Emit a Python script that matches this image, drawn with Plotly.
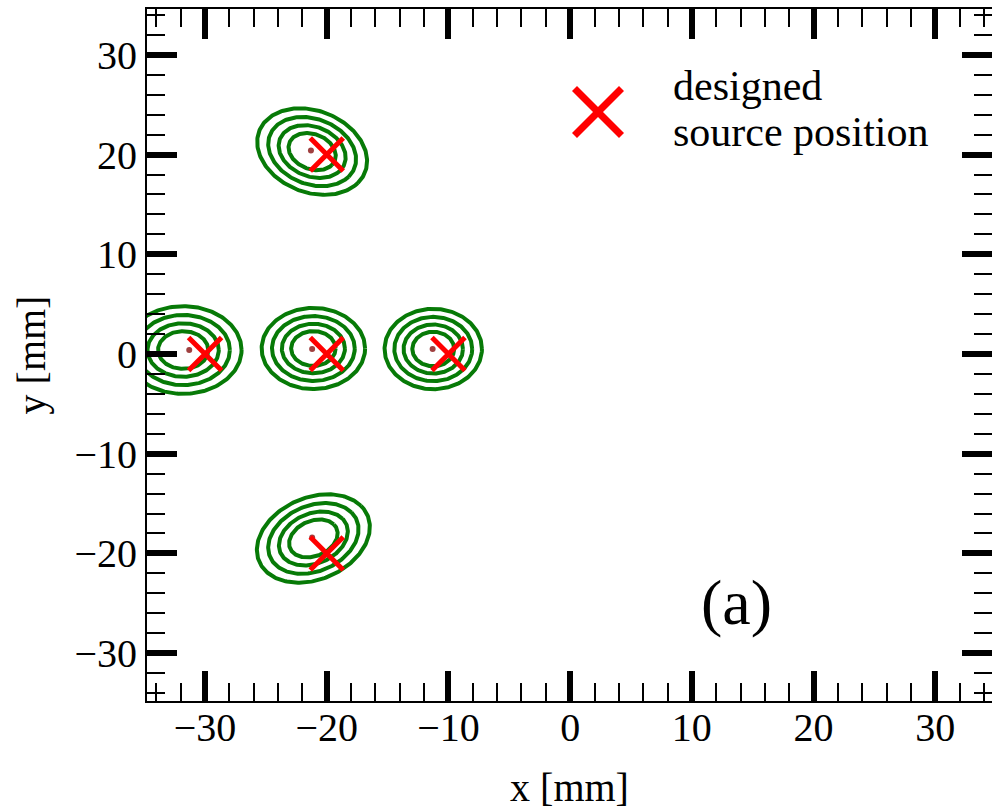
import numpy as np
import plotly.graph_objects as go

# ---- data ----
# reconstructed source distributions (outer contour ellipse parameters, mm)
ring_cx = [-31.8, -21.1, -11.25, -21.2, -21.1]
ring_cy = [0.4, 0.55, 0.5, 20.3, -18.5]
ring_a = [4.8, 4.25, 4.0, 4.9, 5.1]
ring_b = [4.4, 4.07, 4.03, 3.9, 3.9]
ring_tilt_deg = [0, 0, 0, -40, 40]
ring_scales = [0.43, 0.61, 0.8, 1.0]

# reconstructed peak positions (mm)
peak_x = [-31.3, -21.2, -11.3, -21.3, -21.2]
peak_y = [0.4, 0.5, 0.5, 20.4, -18.4]

# designed source positions (mm)
design_x = [-30, -20, -10, -20, -20]
design_y = [0, 0, 0, 20, -20]

x_range = [-34.77, 34.66]
y_range = [-34.8, 34.6]

# ---- layout geometry (pixels) ----
W, H = 992, 812
ML, MR, MT, MB = 147, 0, 9, 111
PW, PH = W - ML - MR, H - MT - MB


def px2paper(px, py):
    return (px - ML) / PW, (H - MB - py) / PH


FONT = "Liberation Serif"
GREEN = "#077a07"

fig = go.Figure()

t = np.linspace(0, 2 * np.pi, 240)
for cx, cy, a, b, th in zip(ring_cx, ring_cy, ring_a, ring_b, ring_tilt_deg):
    xs, ys = [], []
    thr = np.deg2rad(th)
    for s in ring_scales:
        u = s * a * np.cos(t)
        v = s * b * np.sin(t)
        xs += list(cx + u * np.cos(thr) - v * np.sin(thr)) + [None]
        ys += list(cy + u * np.sin(thr) + v * np.cos(thr)) + [None]
    fig.add_trace(go.Scatter(x=xs, y=ys, mode="lines",
                             line=dict(color=GREEN, width=4),
                             hoverinfo="skip", showlegend=False))

fig.add_trace(go.Scatter(x=peak_x, y=peak_y, mode="markers",
                         marker=dict(color="#a04040", size=6),
                         showlegend=False))

fig.add_trace(go.Scatter(x=design_x, y=design_y, mode="markers",
                         marker=dict(symbol="x-thin", size=33,
                                     line=dict(color="red", width=5)),
                         name="designed source position", showlegend=False))

axis_common = dict(
    tickmode="linear", tick0=0, dtick=10,
    ticks="inside", ticklen=30, tickwidth=6, tickcolor="black",
    showline=True, linewidth=2, linecolor="black", mirror="ticks",
    showgrid=False, zeroline=False,
    tickfont=dict(family=FONT, size=40, color="black"),
    minor=dict(tick0=0, dtick=2, ticks="inside", ticklen=18,
               tickwidth=1.5, tickcolor="black", showgrid=False),
)

fig.update_layout(
    template="none",
    width=W, height=H,
    margin=dict(l=ML, r=MR, t=MT, b=MB),
    paper_bgcolor="white", plot_bgcolor="white",
    showlegend=False,
    xaxis=dict(range=x_range, **axis_common, ticklabelstandoff=-10,
               title=dict(text="x [mm]", font=dict(family=FONT, size=40, color="black"),
                          standoff=24)),
    yaxis=dict(range=y_range, **axis_common,
               title=dict(text="y [mm]", font=dict(family=FONT, size=40, color="black"),
                          standoff=16)),
)

# legend: red cross + two-line label
lx, ly = px2paper(598, 112)
hx, hy = 23.5 / PW, 23.5 / PH
for (x0, y0, x1, y1) in [(lx - hx, ly + hy, lx + hx, ly - hy), (lx - hx, ly - hy, lx + hx, ly + hy)]:
    fig.add_shape(type="line", xref="paper", yref="paper",
                  x0=x0, y0=y0, x1=x1, y1=y1,
                  line=dict(color="red", width=7))

tx, ty1 = px2paper(671, 86)
_, ty2 = px2paper(671, 132)
fig.add_annotation(text="designed", xref="paper", yref="paper", x=tx, y=ty1,
                   xanchor="left", yanchor="middle", showarrow=False,
                   font=dict(family=FONT, size=42, color="black"))
fig.add_annotation(text="source position", xref="paper", yref="paper", x=tx, y=ty2,
                   xanchor="left", yanchor="middle", showarrow=False,
                   font=dict(family=FONT, size=42, color="black"))

ax, ay = px2paper(736, 602)
fig.add_annotation(text="(a)", xref="paper", yref="paper", x=ax, y=ay,
                   xanchor="center", yanchor="middle", showarrow=False,
                   font=dict(family=FONT, size=64, color="black"))

fig.write_html("out.html")
